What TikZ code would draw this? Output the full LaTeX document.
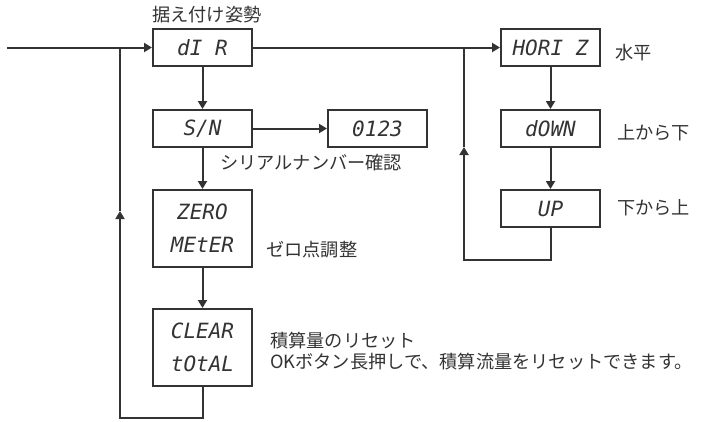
\documentclass[tikz,border=0pt]{standalone}
\usepackage{fontspec}
\newfontfamily\jpfont{Noto Sans CJK JP}
\newfontfamily\segfont{DejaVu Sans Mono}
\usetikzlibrary{positioning,arrows.meta}
\definecolor{inkgray}{HTML}{333333}

\tikzset{
  disp/.style={draw=inkgray, line width=2pt, minimum width=99pt, minimum height=37pt,
    inner sep=0pt, align=center, text=inkgray,
    font=\segfont\itshape\fontsize{21}{33}\selectfont},
  dispdbl/.style={disp, minimum height=77pt},
  lbl/.style={anchor=west, inner sep=0pt, text=inkgray,
    font=\jpfont\fontsize{18.2}{21}\selectfont},
  wire/.style={draw=inkgray, line width=2pt},
  flow/.style={wire, -{Triangle[length=8pt,width=9pt]}},
}

\begin{document}
\begin{tikzpicture}[x=1pt,y=-1pt]
	\useasboundingbox (0,0) rectangle (704,421);

	% left column
	\node[disp] (dir) at (202.5,47.5) {dI R};
	\node[disp, below=42pt of dir] (sn) {S/N};
	\node[disp, right=74pt of sn] (num) {0123};
	\node[dispdbl, below=41pt of sn] (zero) {ZERO\\MEtER};
	\node[dispdbl, below=40pt of zero] (clear) {CLEAR\\tOtAL};

	% right column
	\node[disp] (horiz) at (550.5,47.5) {HORI Z};
	\node[disp, below=42pt of horiz] (down) {dOWN};
	\node[disp, below=41pt of down] (up) {UP};

	% labels
	\node[lbl] (mountlbl) at (152,15) {据え付け姿勢};
	\node[lbl] (serlbl) at (220,163) {シリアルナンバー確認};
	\node[lbl] (zerolbl) at (266,250) {ゼロ点調整};
	\node[lbl, align=left] (clrlbl) at (270,351) {積算量のリセット\\OKボタン長押しで、積算流量をリセットできます。};
	\node[lbl] (horlbl) at (615,53) {水平};
	\node[lbl] (dnlbl) at (617,133) {上から下};
	\node[lbl] (uplbl) at (617,208) {下から上};

	\coordinate (start) at (7,47.5);
	\coordinate (ljoin) at (120,47.5);
	\coordinate (larr) at (120,211);
	\coordinate (lbot) at (120,418);
	\coordinate (rjoin) at (464,47.5);
	\coordinate (rarr) at (464,147);
	\coordinate (rbot) at (464,260);

	% main flow
	\draw[flow] (start) -- (dir);
	\draw[flow] (dir) -- (horiz);
	\draw[flow] (dir) -- (sn);
	\draw[flow] (sn) -- (num);
	\draw[flow] (sn) -- (zero);
	\draw[flow] (zero) -- (clear);
	\draw[flow] (horiz) -- (down);
	\draw[flow] (down) -- (up);

	% return loops
	\draw[flow] (clear.south) |- (lbot) -- (larr);
	\draw[wire] (larr) -- (ljoin);
	\draw[flow] (up.south) |- (rbot) -- (rarr);
	\draw[wire] (rarr) -- (rjoin);
\end{tikzpicture}
\end{document}
